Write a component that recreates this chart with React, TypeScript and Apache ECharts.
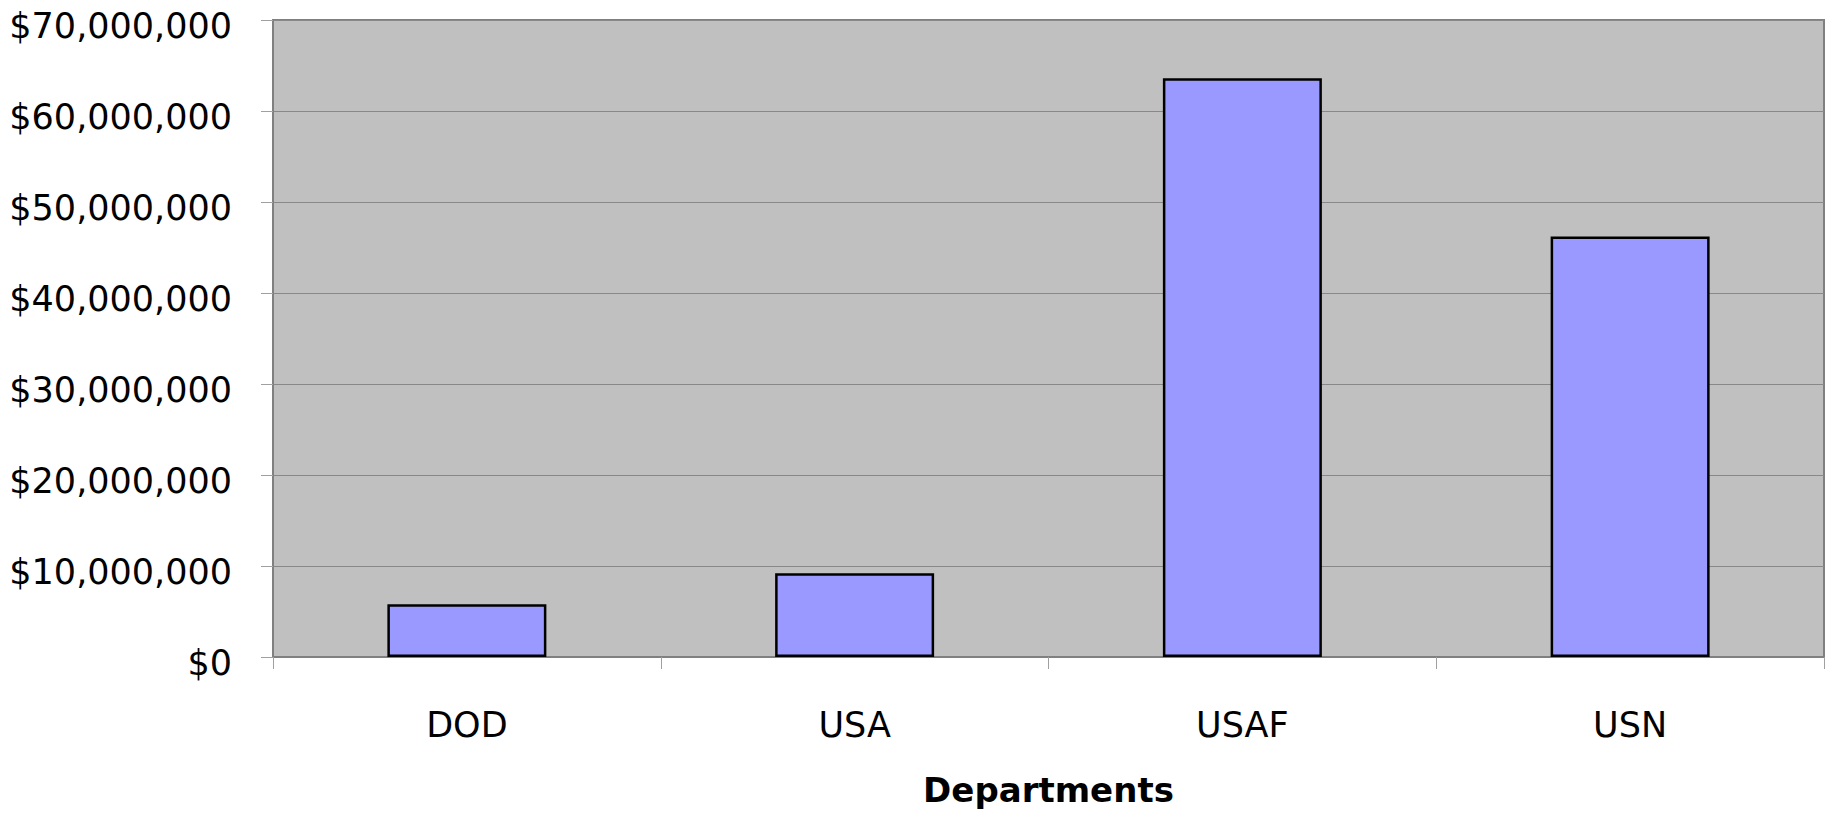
import React, { useEffect, useRef } from "react";
import * as echarts from "echarts";

const categories: string[] = ["DOD", "USA", "USAF", "USN"];
const values: number[] = [5800000, 9200000, 63600000, 46200000];
const yMin = 0;
const yMax = 70000000;
const yInterval = 10000000;
const xAxisTitle = "Departments";

const FONT = "DejaVu Sans";

export default function App() {
  const ref = useRef<HTMLDivElement>(null);

  useEffect(() => {
    if (!ref.current) return;
    const chart = echarts.init(ref.current, undefined, { renderer: "svg" });
    chart.setOption({
      animation: false,
      backgroundColor: "#ffffff",
      grid: {
        left: 273,
        right: 7,
        top: 20,
        bottom: 156,
        outerBoundsMode: "none",
        containLabel: false,
        show: true,
        backgroundColor: "#c0c0c0",
        borderColor: "#808080",
        borderWidth: 2,
      },
      xAxis: {
        type: "category",
        data: categories,
        name: xAxisTitle,
        nameLocation: "middle",
        nameGap: 115,
        nameTextStyle: {
          fontFamily: FONT,
          fontSize: 34,
          fontWeight: "bold",
          color: "#000",
          lineHeight: 36,
        },
        axisLine: { show: true, lineStyle: { color: "#808080", width: 2 } },
        axisTick: { show: true, length: 12, lineStyle: { color: "#a0a0a0", width: 1 } },
        axisLabel: {
          fontFamily: FONT,
          fontSize: 35,
          color: "#000",
          margin: 50,
        },
        splitLine: { show: false },
      },
      yAxis: {
        type: "value",
        min: yMin,
        max: yMax,
        interval: yInterval,
        axisLine: { show: true, lineStyle: { color: "#808080", width: 2 } },
        axisTick: { show: true, length: 12, lineStyle: { color: "#a0a0a0", width: 1 } },
        axisLabel: {
          fontFamily: FONT,
          fontSize: 35,
          color: "#000",
          margin: 41,
          verticalAlign: "top",
          lineHeight: 12,
          formatter: (v: number) => "$" + v.toLocaleString("en-US"),
        },
        splitLine: { show: true, lineStyle: { color: "#888888", width: 1 } },
      },
      series: [
        {
          type: "bar",
          data: values,
          barWidth: 159,
          itemStyle: {
            color: "#9999ff",
            borderColor: "#000000",
            borderWidth: 2.5,
          },
        },
      ],
    });
    return () => chart.dispose();
  }, []);

  return (
    <div
      ref={ref}
      style={{ position: "fixed", left: 0, top: 0, width: 1831, height: 813 }}
    />
  );
}
